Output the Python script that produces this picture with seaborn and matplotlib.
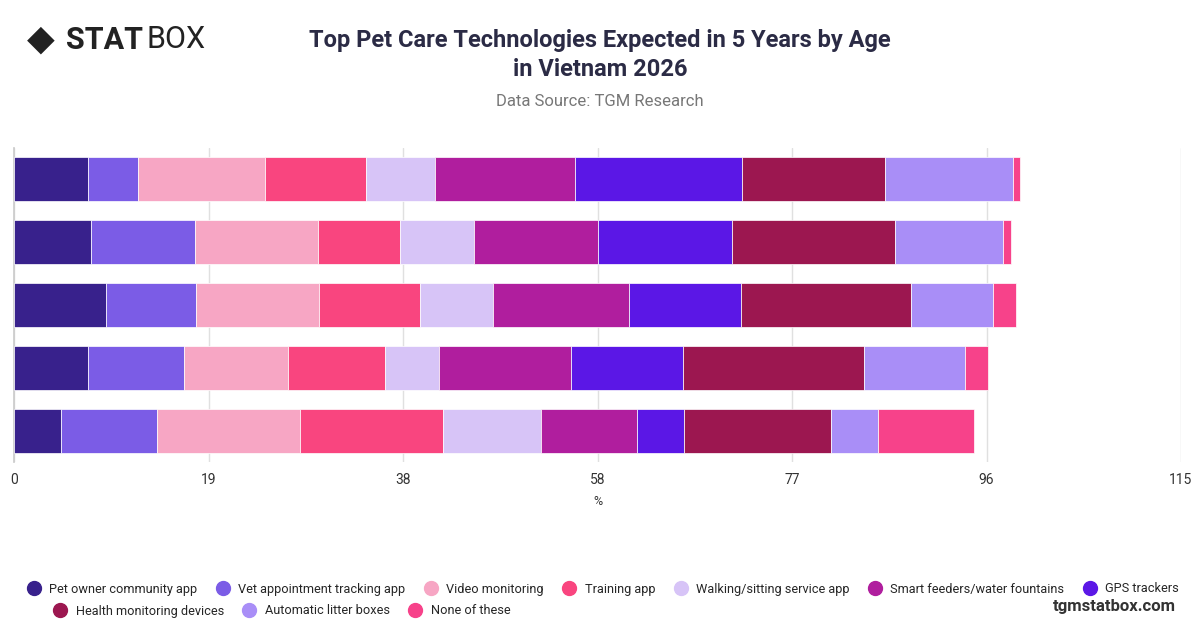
import matplotlib
matplotlib.use("Agg")
import matplotlib.pyplot as plt
import seaborn as sns
import numpy as np

groups = ["Gen Z", "Millennials", "Gen X", "Baby Boomers", "Silent"]
series = ["Pet owner community app", "Vet appointment tracking app", "Video monitoring",
          "Training app", "Walking/sitting service app", "Smart feeders/water fountains",
          "GPS trackers", "Health monitoring devices", "Automatic litter boxes", "None of these"]
values = [
    [7.3, 4.9, 12.5, 10.0, 6.8, 13.8, 16.4, 14.1, 12.6, 0.7],
    [7.6, 10.2, 12.2, 8.0, 7.3, 12.2, 13.3, 16.0, 10.7, 0.7],
    [9.1, 8.8, 12.2, 9.9, 7.2, 13.4, 11.0, 16.8, 8.1, 2.2],
    [7.3, 9.5, 10.2, 9.6, 5.3, 13.0, 11.0, 17.9, 9.9, 2.3],
    [4.6, 9.5, 14.1, 14.1, 9.6, 9.5, 4.6, 14.5, 4.6, 9.5],
]
colors = ["#38218c", "#7b5ce6", "#f7a6c4", "#f9457f", "#d7c4f7", "#b01e9e",
          "#5b17e6", "#9c1750", "#a98ef7", "#f7428a"]
xmax = 115
xtick_labels = ["0", "19", "38", "58", "77", "96", "115"]

sns.set_theme(style="white")
plt.rcParams['font.family'] = ['Roboto', 'DejaVu Sans']
fig = plt.figure(figsize=(12, 6.28), dpi=100)
ax = fig.add_axes([14/1200, 1-462/628, (1181-14)/1200, (462-148)/628])

vals = np.array(values)
y = np.arange(len(groups))
left = np.zeros(len(groups))
for i, s in enumerate(series):
    ax.barh(y, vals[:, i], left=left, height=0.7, color=colors[i], label=s,
            edgecolor="white", linewidth=0.5, zorder=3)
    left += vals[:, i]

ax.set_ylim(len(groups) - 0.5, -0.5)
ax.set_xlim(0, xmax)
ax.set_xticks(np.linspace(0, xmax, len(xtick_labels)))
ax.set_xticklabels(xtick_labels, fontsize=10, color="#333333")
ax.set_yticks([])
ax.grid(axis="x", color="#e0e0e0", linewidth=1, zorder=0)
for sp in ["top", "right", "bottom"]:
    ax.spines[sp].set_visible(False)
ax.spines["left"].set_color("#cccccc")
ax.tick_params(axis="x", length=0, pad=8)
ax.set_xlabel("%", fontsize=9, color="#333333", labelpad=6)

fig.text(0.5, 1-55/628, "Top Pet Care Technologies Expected in 5 Years by Age\nin Vietnam 2026",
         ha="center", va="center", fontsize=17, fontweight="bold", color="#2b2b45", linespacing=1.3)
fig.text(0.5, 1-101/628, "Data Source: TGM Research", ha="center", va="center",
         fontsize=12, color="#777777")
fig.text(0.022, 1-40/628, "◆", fontsize=26, color="#222222", ha="left", va="center")
fig.text(0.055, 1-40/628, "STAT", fontsize=22, fontweight="bold", color="#222222", ha="left", va="center")
fig.text(0.122, 1-40/628, "BOX", fontsize=22, color="#222222", ha="left", va="center")
fig.text(0.98, 1-606/628, "tgmstatbox.com", fontsize=12, fontweight="bold", color="#333333",
         ha="right", va="center")

handles = [plt.Line2D([], [], marker="o", linestyle="", markersize=10, color=c) for c in colors]
fig.legend(handles[:7], series[:7], loc="center", bbox_to_anchor=(0.5, 1-589/628), ncol=7,
           frameon=False, fontsize=9.2, handletextpad=0.2, columnspacing=1.0)
fig.legend(handles[7:], series[7:], loc="center left", bbox_to_anchor=(0.03, 1-611/628), ncol=3,
           frameon=False, fontsize=9.2, handletextpad=0.2, columnspacing=1.0)

fig.savefig("out.png", dpi=100)
